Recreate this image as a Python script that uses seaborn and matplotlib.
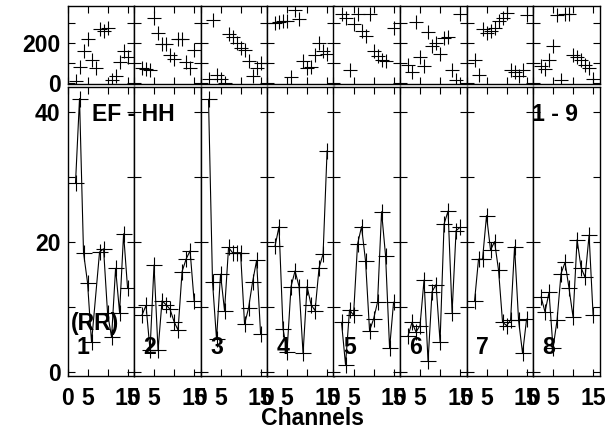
import numpy as np
import pandas as pd
import matplotlib
matplotlib.use('Agg')
import matplotlib.pyplot as plt
import seaborn as sns

# channels shared by every panel
channels = list(range(2, 16))
nan = np.nan

# upper strip: amplitude per channel, panels 1-8
amp_1 = [12, 78, 158, 217, 117, 75, 267, 258, 275, 17, 37, 103, 158, 130]
amp_2 = [75, 72, 65, 325, 250, 192, 192, 142, 120, 220, 217, 103, 75, 167]
amp_3 = [20, 313, 42, 20, 0, 242, 230, 200, 175, 163, 108, 37, 75, 100]
amp_4 = [297, 303, 308, 308, 33, 363, 317, 108, 75, 80, 142, 200, 158, 147]
amp_5 = [342, 325, 67, 292, 342, 258, 233, 342, 158, 133, 117, 108, nan, 275]
amp_6 = [92, 58, 303, 130, 83, 253, 183, 200, 147, 225, 230, 67, 17, 342]
amp_7 = [117, 42, 270, 250, 258, 275, 308, 325, 350, 67, 58, 37, 67, 337]
amp_8 = [83, 70, 117, 183, 337, 17, 342, 342, 142, 130, 117, 92, 75, 20]

# lower strip: RR per channel, panels 1-8
rr_1 = [29.0, 42.0, 18.3, 13.7, 4.5, nan, 18.4, 18.9, 9.0, 5.3, 15.9, 9.1, 21.2, 12.8]
rr_2 = [8.7, 10.2, 3.3, 16.4, 3.3, 10.9, 10.3, 9.6, 7.7, 6.4, 15.4, 17.3, 18.6, 10.9]
rr_3 = [41.9, 13.8, 5.0, 15.0, 9.4, 19.1, 18.3, 18.3, 18.3, 7.3, 9.8, 13.8, 17.1, 5.8]
rr_4 = [19.3, 22.3, 6.6, 3.1, 13.1, 15.5, 13.1, 2.8, 13.1, 10.3, 9.4, 16.0, 18.1, 34.0]
rr_5 = [7.6, 1.1, 9.5, 8.7, 19.6, 22.3, 17.0, 6.3, 8.1, 10.7, 24.6, 17.8, 3.6, 10.7]
rr_6 = [5.5, 7.6, 6.1, 7.1, 14.1, 1.6, 12.3, 13.4, 4.6, 22.7, 24.7, 9.1, 21.7, 22.2]
rr_7 = [10.8, 17.3, 17.3, 24.0, 18.7, 20.0, 15.6, 7.6, 7.1, 7.9, 19.2, 7.9, 2.8, 8.1]
rr_8 = [11.5, 9.2, 12.2, 3.6, 7.9, 15.1, 16.8, 12.8, 8.4, 20.3, 16.0, 14.5, 21.0, 8.7]

amps = [amp_1, amp_2, amp_3, amp_4, amp_5, amp_6, amp_7, amp_8]
rrs = [rr_1, rr_2, rr_3, rr_4, rr_5, rr_6, rr_7, rr_8]

sns.set_style('ticks')
plt.rcParams['font.family'] = ['Liberation Sans', 'DejaVu Sans']
plt.rcParams['font.weight'] = 'bold'
plt.rcParams['axes.linewidth'] = 1.0
plt.rcParams['axes.edgecolor'] = 'black'
plt.rcParams['text.color'] = 'black'
plt.rcParams['xtick.color'] = 'black'
plt.rcParams['ytick.color'] = 'black'
plt.rcParams['xtick.labelcolor'] = 'black'
plt.rcParams['ytick.labelcolor'] = 'black'

FS = 16.6
W, H = 612, 429
left0, pw = 67.5, 66.5

fig = plt.figure(figsize=(6.12, 4.29), dpi=100)

for i in range(8):
    x0 = (left0 + i * pw) / W
    ax_t = fig.add_axes([x0, 1 - 84 / H, pw / W, 78 / H])
    ax_b = fig.add_axes([x0, 1 - 376 / H, pw / W, 288.5 / H])

    df_t = pd.DataFrame({'ch': channels, 'val': amps[i]}).dropna()
    df_b = pd.DataFrame({'ch': channels, 'val': rrs[i]}).dropna()

    sns.scatterplot(data=df_t, x='ch', y='val', marker='+', color='k',
                    s=110, linewidth=0.8, ax=ax_t)
    sns.lineplot(data=df_b, x='ch', y='val', color='k', lw=0.8,
                 marker='+', markersize=11, markeredgewidth=0.8,
                 markeredgecolor='k', estimator=None, ax=ax_b)

    for ax in (ax_t, ax_b):
        ax.set_xlim(0, 16.6)
        ax.set_xticks([0, 5, 10, 15])
        ax.set_xlabel('')
        ax.set_ylabel('')
        ax.tick_params(direction='in', top=True, right=True, length=5,
                       width=0.8, labelsize=FS, color='k', labelcolor='k')
        ax.tick_params(axis='y', pad=5)
        ax.tick_params(axis='x', pad=8)

    ax_t.set_ylim(-4, 383)
    ax_t.set_yticks([0, 100, 200, 300])
    ax_t.set_yticklabels(['0', '', '200', ''])
    ax_t.tick_params(labelbottom=False, labelleft=(i == 0))

    ax_b.set_ylim(-0.66, 43.7)
    ax_b.set_yticks([0, 10, 20, 30, 40])
    ax_b.set_yticklabels(['0', '', '20', '', '40'])
    ax_b.set_xticklabels(['0', '5', '', '15'])
    ax_b.tick_params(labelleft=(i == 0))

    ax_b.text(9.5 / pw, 22 / 288.5, str(i + 1), transform=ax_b.transAxes,
              fontsize=FS, fontweight='bold', va='baseline', ha='left')

fig.text(92 / W, 1 - 121 / H, 'EF - HH', fontsize=FS, fontweight='bold', va='baseline')
fig.text(532 / W, 1 - 121 / H, '1 - 9', fontsize=FS, fontweight='bold', va='baseline')
fig.text(71 / W, 1 - 330 / H, '(RR)', fontsize=FS, fontweight='bold', va='baseline')
fig.text(313 / W, 4 / H, 'Channels', fontsize=FS, fontweight='bold',
         va='baseline', ha='center')

plt.savefig('out.png', dpi=100)
